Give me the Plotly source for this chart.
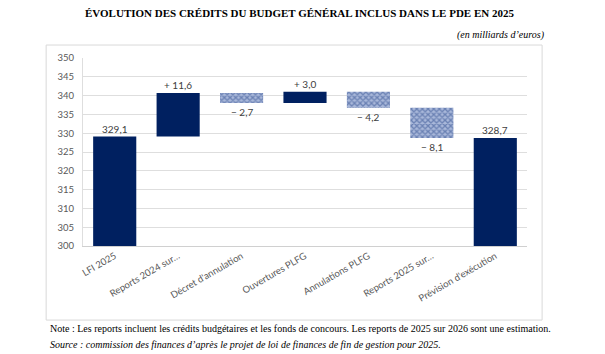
import plotly.graph_objects as go

categories = ["LFI 2025", "Reports 2024 sur…", "Décret d'annulation", "Ouvertures PLFG",
              "Annulations PLFG", "Reports 2025 sur…", "Prévision d'exécution"]
measures = ["total", "relative", "relative", "relative", "relative", "relative", "total"]
values = [329.1, 11.6, -2.7, 3.0, -4.2, -8.1, 328.7]
labels = ["329,1", "+ 11,6", "− 2,7", "+ 3,0", "− 4,2", "− 8,1", "328,7"]
y_ticks = list(range(300, 351, 5))
AXIS_MIN = 300

NAVY = "#002060"

# compute bar bases / tops from the data
bases, tops = [], []
running = 0.0
for m, v in zip(measures, values):
    if m == "total":
        b, t = AXIS_MIN, v
        running = v
    else:
        start = running
        running = running + v
        b, t = min(start, running), max(start, running)
    bases.append(b)
    tops.append(t)

fig = go.Figure()

solid_idx = [i for i, (m, v) in enumerate(zip(measures, values)) if m == "total" or v > 0]
hatch_idx = [i for i in range(len(values)) if i not in solid_idx]

fig.add_trace(go.Bar(
    x=[categories[i] for i in solid_idx],
    y=[tops[i] - bases[i] for i in solid_idx],
    base=[bases[i] for i in solid_idx],
    marker=dict(color=NAVY, line=dict(width=0)),
    hoverinfo="skip", showlegend=False,
))
fig.add_trace(go.Bar(
    x=[categories[i] for i in hatch_idx],
    y=[tops[i] - bases[i] for i in hatch_idx],
    base=[bases[i] for i in hatch_idx],
    marker=dict(color="#9eaed2", line=dict(width=0),
                pattern=dict(shape="x", fgcolor="#2c4a8c", bgcolor="#a9b8da",
                             size=4, solidity=0.55)),
    hoverinfo="skip", showlegend=False,
))

annotations = []
for i, (m, v) in enumerate(zip(measures, values)):
    up = (m == "total") or v > 0
    annotations.append(dict(
        x=categories[i], y=tops[i] if up else bases[i],
        xref="x", yref="y", text=labels[i], showarrow=False,
        yanchor="bottom" if up else "top", yshift=0 if up else -1,
        font=dict(family="Lato, 'Open Sans', sans-serif", size=10, color="#404040"),
    ))

annotations += [
    dict(text="<b>ÉVOLUTION DES CRÉDITS DU BUDGET GÉNÉRAL INCLUS DANS LE PDE EN 2025</b>",
         xref="paper", yref="paper", x=0.487, y=1.24, xanchor="center", yanchor="middle",
         showarrow=False, font=dict(family="Liberation Serif, Times New Roman, serif", size=11, color="#000")),
    dict(text="<i>(en milliards d’euros)</i>",
         xref="paper", yref="paper", x=1.045, y=1.125, xanchor="right", yanchor="middle",
         showarrow=False, font=dict(family="Liberation Serif, Times New Roman, serif", size=10, color="#000")),
    dict(text="Note : Les reports incluent les crédits budgétaires et les fonds de concours. Les reports de 2025 sur 2026 sont une estimation.",
         xref="paper", yref="paper", x=-0.078, y=-0.44, xanchor="left", yanchor="middle",
         showarrow=False, font=dict(family="Liberation Serif, Times New Roman, serif", size=10, color="#000")),
    dict(text="<i>Source : commission des finances d’après le projet de loi de finances de fin de gestion pour 2025.</i>",
         xref="paper", yref="paper", x=-0.078, y=-0.525, xanchor="left", yanchor="middle",
         showarrow=False, font=dict(family="Liberation Serif, Times New Roman, serif", size=10, color="#000")),
]

fig.update_layout(
    width=605, height=354,
    margin=dict(l=83, r=78, t=58, b=108),
    paper_bgcolor="white", plot_bgcolor="white",
    barmode="overlay", bargap=0.32,
    annotations=annotations,
    shapes=[dict(type="rect", xref="paper", yref="paper",
                 x0=-0.083, x1=1.034, y0=-0.394, y1=1.069,
                 line=dict(color="#d9d9d9", width=1), layer="below")],
    xaxis=dict(type="category", categoryorder="array", categoryarray=categories,
               tickangle=-30, showgrid=False, showline=True, linecolor="#d0d0d0",
               ticks="", tickfont=dict(family="Lato, 'Open Sans', sans-serif", size=9.5, color="#595959"),
               layer="above traces"),
    yaxis=dict(range=[300, 350], tickvals=y_ticks, showgrid=True, gridcolor="#dedede",
               showline=True, linecolor="#dedede", ticks="", zeroline=False,
               tickfont=dict(family="Lato, 'Open Sans', sans-serif", size=9.5, color="#595959"),
               ticklabelstandoff=6),
)

fig.write_html("out.html")
